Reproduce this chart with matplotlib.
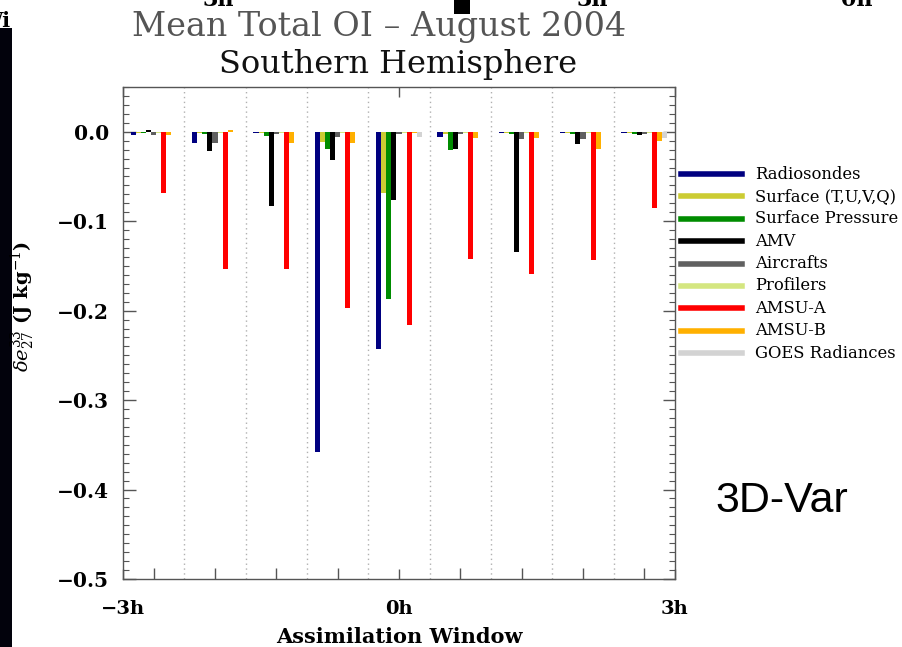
import numpy as np
import matplotlib
matplotlib.use("Agg")
import matplotlib.pyplot as plt
from matplotlib.patches import Rectangle
from matplotlib.lines import Line2D

# ---- data ----
groups = ["-3h", "-2.25h", "-1.5h", "-0.75h", "0h", "0.75h", "1.5h", "2.25h", "3h"]
series_names = ["Radiosondes", "Surface (T,U,V,Q)", "Surface Pressure", "AMV",
                "Aircrafts", "Profilers", "AMSU-A", "AMSU-B", "GOES Radiances"]
series_colors = ["#000080", "#cccc33", "#008c00", "#000000",
                 "#606060", "#d4e680", "#ff0000", "#ffb000", "#d3d3d3"]

radiosondes = [-0.004, -0.013, -0.001, -0.358, -0.243, -0.006, -0.001, -0.001, -0.001]
surface = [-0.001, -0.001, -0.001, -0.011, -0.068, -0.002, -0.001, -0.001, -0.001]
surface_pressure = [-0.001, -0.002, -0.005, -0.019, -0.187, -0.020, -0.002, -0.002, -0.002]
amv = [0.002, -0.021, -0.083, -0.032, -0.076, -0.019, -0.135, -0.014, -0.004]
aircrafts = [-0.004, -0.013, -0.002, -0.006, -0.003, -0.003, -0.008, -0.008, -0.002]
profilers = [-0.001, -0.001, -0.001, -0.001, -0.001, -0.001, -0.001, -0.001, -0.001]
amsu_a = [-0.069, -0.153, -0.154, -0.197, -0.216, -0.142, -0.159, -0.143, -0.085]
amsu_b = [-0.004, 0.002, -0.013, -0.013, -0.001, -0.007, -0.007, -0.019, -0.010]
goes = [0.0, 0.0, 0.0, 0.0, -0.006, 0.0, 0.0, 0.0, -0.007]

all_series = [radiosondes, surface, surface_pressure, amv, aircrafts,
              profilers, amsu_a, amsu_b, goes]

xtick_labels = ["\u22123h", "0h", "3h"]
ytick_values = [0.0, -0.1, -0.2, -0.3, -0.4, -0.5]

plt.rcParams["font.family"] = ["DejaVu Serif", "DejaVu Sans"]
plt.rcParams["mathtext.fontset"] = "dejavuserif"

fig = plt.figure(figsize=(9.02, 6.47), dpi=100)
W, H = 902.0, 647.0

def fx(px):
    return px / W

def fy(py):
    return 1 - py / H

ax = fig.add_axes([fx(123), fy(579), fx(675) - fx(123), fy(87) - fy(579)])

ng = len(groups)
centers = np.arange(ng) + 0.5
bw = 0.083
for k, (vals, col) in enumerate(zip(all_series, series_colors)):
    ax.bar(centers + (k - 4) * bw, vals, width=bw, color=col, linewidth=0, zorder=3)

# dotted separators
for b in range(1, ng):
    ax.axvline(b, color="#b0b0b0", linestyle=(0, (1.0, 2.5)), linewidth=1.0, zorder=1)

ax.set_xlim(0, ng)
ax.set_ylim(-0.5, 0.05)

ax.set_xticks([0, ng / 2, ng])
ax.set_xticklabels(xtick_labels, fontsize=14, fontweight="bold")
ax.set_xticks(centers, minor=True)
ax.set_yticks(ytick_values)
ax.set_yticklabels(["0.0", "\u22120.1", "\u22120.2", "\u22120.3", "\u22120.4", "\u22120.5"],
                   fontsize=14.5, fontweight="bold")
ax.set_yticks(np.arange(-0.5, 0.0501, 0.01), minor=True)

spc = "#555555"
for s in ax.spines.values():
    s.set_color(spc)
    s.set_linewidth(1.0)
ax.tick_params(axis="x", which="major", direction="in", length=7.5, width=1,
               color=spc, top=True, bottom=True, pad=15)
ax.tick_params(axis="x", which="minor", direction="in", length=8, width=1,
               color=spc, top=False, bottom=True)
ax.tick_params(axis="y", which="major", direction="in", length=9, width=1,
               color=spc, left=True, right=True, pad=10)
ax.tick_params(axis="y", which="minor", direction="in", length=4.5, width=0.8,
               color=spc, left=True, right=True)

# titles and labels
fig.text(fx(379), fy(36), "Mean Total OI \u2013 August 2004", ha="center", va="baseline",
         fontsize=24, color="#555555")
fig.text(fx(398), fy(73), "Southern Hemisphere", ha="center", va="baseline",
         fontsize=23, color="#111111")
fig.text(fx(399), fy(637), "Assimilation Window", ha="center", va="center",
         fontsize=15, fontweight="bold")
fig.text(fx(23), fy(306), r"$\delta e^{33}_{27}$ (J kg$^{-1}$)", ha="center", va="center",
         rotation=90, fontsize=14, fontweight="bold")

# legend (manual, IDL style)
for i, (name, col) in enumerate(zip(series_names, series_colors)):
    yy = fy(174 + i * 22.4)
    fig.add_artist(Line2D([fx(681), fx(742)], [yy, yy], color=col, linewidth=4))
    fig.text(fx(755), yy, name, ha="left", va="center", fontsize=11.8)

fig.text(fx(782), fy(501), "3D-Var", ha="center", va="center", fontsize=31,
         family="Liberation Sans")

# slide background fragments
fig.add_artist(Rectangle((0, 0), fx(12), fy(28), transform=fig.transFigure,
                         facecolor="#02020c", edgecolor="none"))
fig.add_artist(Rectangle((fx(454), fy(14)), fx(16), 14 / H, transform=fig.transFigure,
                         facecolor="black", edgecolor="none"))
for xc, t in [(218, "3h"), (592, "3h"), (857, "0h")]:
    fig.text(fx(xc), fy(6), t, ha="center", va="baseline", fontsize=16, fontweight="bold")
fig.text(fx(10), fy(27), "Wi", ha="right", va="baseline", fontsize=15, fontweight="bold")

fig.savefig("out.png", dpi=100)
